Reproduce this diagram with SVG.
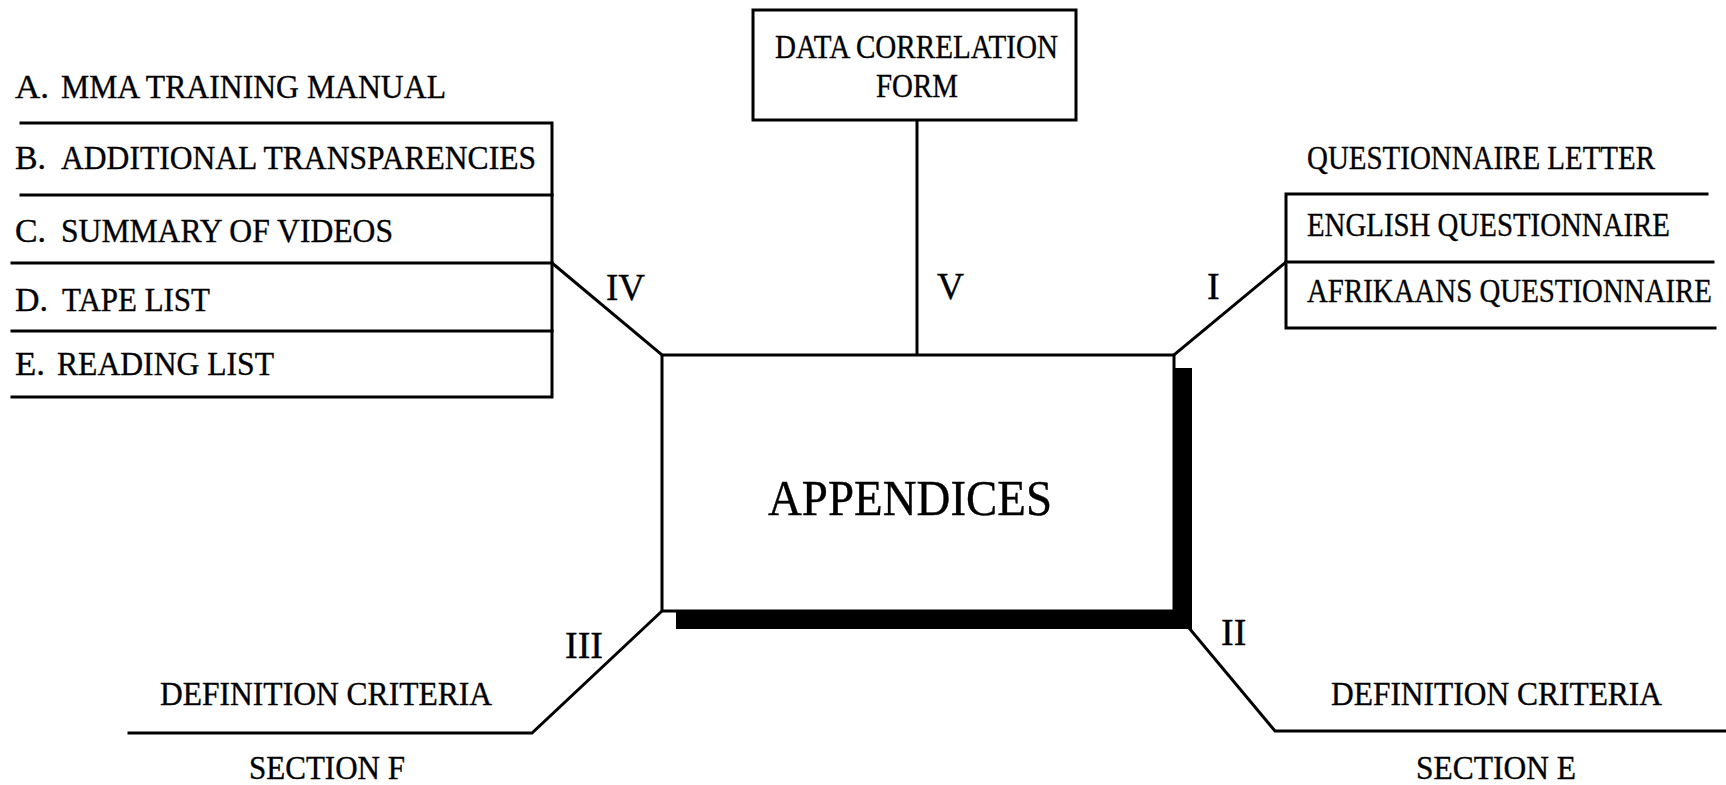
<svg xmlns="http://www.w3.org/2000/svg" width="1726" height="785" viewBox="0 0 1726 785">
<style>
.t{font-family:"Liberation Serif","Times New Roman",serif;font-size:33px;fill:#000;stroke:#000;stroke-width:0.35}
.n{font-family:"Liberation Serif","Times New Roman",serif;font-size:38px;fill:#000;stroke:#000;stroke-width:0.35}
.big{font-family:"Liberation Serif","Times New Roman",serif;font-size:51px;fill:#000;stroke:#000;stroke-width:0.4}
.ln{stroke:#000;stroke-width:3;fill:none;stroke-linecap:square;stroke-linejoin:miter}
</style>
<rect width="1726" height="785" fill="#fff"/>
<g id="connectors">
<polyline class="ln" points="552,263 662,355"/>
<polyline class="ln" points="917,120 917,355"/>
<polyline class="ln" points="1174,355 1286,262"/>
<polyline class="ln" points="1189,628 1275,731 1726,731"/>
<polyline class="ln" points="662,611 532,733 129,733"/>
<text class="n" x="606" y="300" textLength="39" lengthAdjust="spacingAndGlyphs">IV</text>
<text class="n" x="937" y="299" textLength="27" lengthAdjust="spacingAndGlyphs">V</text>
<text class="n" x="1207" y="299">I</text>
<text class="n" x="1221" y="645">II</text>
<text class="n" x="565" y="658">III</text>
</g>
<g id="node-appendices">
<rect x="676" y="368" width="516" height="261" fill="#000"/>
<rect x="662" y="355" width="512" height="256" fill="#fff" stroke="#000" stroke-width="3"/>
<text class="big" x="768" y="515" textLength="284" lengthAdjust="spacingAndGlyphs">APPENDICES</text>
</g>
<g id="node-data-form">
<rect x="753" y="10" width="323" height="110" fill="#fff" stroke="#000" stroke-width="3"/>
<text class="t" x="775" y="58" textLength="283" lengthAdjust="spacingAndGlyphs">DATA CORRELATION</text>
<text class="t" x="876" y="97" textLength="82" lengthAdjust="spacingAndGlyphs">FORM</text>
</g>
<g id="node-left-list">
<polyline class="ln" points="21,123 552,123 552,397 12,397"/>
<line class="ln" x1="21" y1="195" x2="552" y2="195"/>
<line class="ln" x1="12" y1="263" x2="552" y2="263"/>
<line class="ln" x1="12" y1="331" x2="552" y2="331"/>
<text class="t" x="15" y="98" textLength="34" lengthAdjust="spacingAndGlyphs">A.</text>
<text class="t" x="61" y="98" textLength="385" lengthAdjust="spacingAndGlyphs">MMA TRAINING MANUAL</text>
<text class="t" x="15" y="169" textLength="31" lengthAdjust="spacingAndGlyphs">B.</text>
<text class="t" x="61" y="169" textLength="475" lengthAdjust="spacingAndGlyphs">ADDITIONAL TRANSPARENCIES</text>
<text class="t" x="15" y="242" textLength="31" lengthAdjust="spacingAndGlyphs">C.</text>
<text class="t" x="61" y="242" textLength="332" lengthAdjust="spacingAndGlyphs">SUMMARY OF VIDEOS</text>
<text class="t" x="15" y="311" textLength="33" lengthAdjust="spacingAndGlyphs">D.</text>
<text class="t" x="62" y="311" textLength="148" lengthAdjust="spacingAndGlyphs">TAPE LIST</text>
<text class="t" x="15" y="375" textLength="30" lengthAdjust="spacingAndGlyphs">E.</text>
<text class="t" x="57" y="375" textLength="217" lengthAdjust="spacingAndGlyphs">READING LIST</text>
</g>
<g id="node-right-list">
<polyline class="ln" points="1707,194 1286,194 1286,328 1715,328"/>
<line class="ln" x1="1286" y1="262" x2="1713" y2="262"/>
<text class="t" x="1307" y="169" textLength="348" lengthAdjust="spacingAndGlyphs">QUESTIONNAIRE LETTER</text>
<text class="t" x="1307" y="236" textLength="363" lengthAdjust="spacingAndGlyphs">ENGLISH QUESTIONNAIRE</text>
<text class="t" x="1307" y="302" textLength="405" lengthAdjust="spacingAndGlyphs">AFRIKAANS QUESTIONNAIRE</text>
</g>
<g id="node-section-f">
<text class="t" x="160" y="705" textLength="332" lengthAdjust="spacingAndGlyphs">DEFINITION CRITERIA</text>
<text class="t" x="249" y="779" textLength="156" lengthAdjust="spacingAndGlyphs">SECTION F</text>
</g>
<g id="node-section-e">
<text class="t" x="1331" y="705" textLength="331" lengthAdjust="spacingAndGlyphs">DEFINITION CRITERIA</text>
<text class="t" x="1416" y="779" textLength="160" lengthAdjust="spacingAndGlyphs">SECTION E</text>
</g>
</svg>
